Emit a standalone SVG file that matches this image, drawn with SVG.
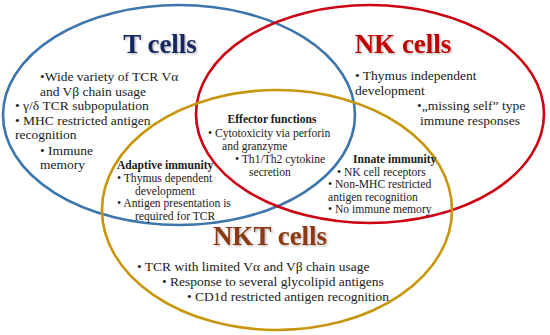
<svg xmlns="http://www.w3.org/2000/svg" width="550" height="335" viewBox="0 0 550 335">
<defs>
<style>
.ring{fill:none;stroke-width:2.6}
text{font-family:'Liberation Serif','DejaVu Serif','Times New Roman',serif}
.title{font-weight:bold;font-size:27px}
.body{font-size:13.5px;fill:#1a1a1a}
.small{font-size:11.6px;fill:#1a1a1a}
.hdr{font-weight:bold}
</style>
<filter id="sh" x="-10%" y="-10%" width="130%" height="140%">
<feDropShadow dx="1.2" dy="1.2" stdDeviation="0.8" flood-color="#000" flood-opacity="0.3"/>
</filter>
</defs>
<rect width="550" height="335" fill="#fff"/>
<g id="connectors"></g>
<g id="t-cells">
<ellipse class="ring" cx="179" cy="115" rx="176" ry="110" stroke="#3d76ac"/>
<text class="title" font-family="Liberation Serif, serif" x="160" y="53" text-anchor="middle" fill="#16285f" filter="url(#sh)">T cells</text>
<text class="body" font-family="Liberation Serif, serif"><tspan x="40" y="81">•Wide variety of TCR Vα</tspan><tspan x="40" y="95.5">and Vβ chain usage</tspan><tspan x="15" y="110">• γ/δ TCR subpopulation</tspan><tspan x="15" y="124.5">• MHC restricted antigen</tspan><tspan x="15" y="139">recognition</tspan><tspan x="40" y="154.5">• Immune</tspan><tspan x="40" y="169">memory</tspan></text>
</g>
<g id="nk-cells">
<ellipse class="ring" cx="370" cy="114" rx="174" ry="109" stroke="#cc0010"/>
<text class="title" font-family="Liberation Serif, serif" x="403" y="53" text-anchor="middle" fill="#c00000" filter="url(#sh)">NK cells</text>
<text class="body" font-family="Liberation Serif, serif"><tspan x="355" y="80">• Thymus independent</tspan><tspan x="355" y="95">development</tspan><tspan x="417" y="110">•„missing self” type</tspan><tspan x="420" y="125">immune responses</tspan></text>
</g>
<g id="nkt-cells">
<ellipse class="ring" cx="277" cy="210" rx="175" ry="120" stroke="#c8960c"/>
<text class="title" font-family="Liberation Serif, serif" x="270" y="245" text-anchor="middle" fill="#8a3a12" filter="url(#sh)">NKT cells</text>
<text class="body" font-family="Liberation Serif, serif"><tspan x="137" y="271">• TCR with limited Vα and Vβ chain usage</tspan><tspan x="162" y="286">• Response to several glycolipid antigens</tspan><tspan x="187" y="301">• CD1d restricted antigen recognition</tspan></text>
</g>
<g id="effector-functions">
<text class="small" font-family="Liberation Serif, serif"><tspan class="hdr" x="272" y="123" text-anchor="middle">Effector functions</tspan><tspan x="208" y="137">• Cytotoxicity via perforin</tspan><tspan x="222" y="150">and granzyme</tspan><tspan x="235" y="163">• Th1/Th2 cytokine</tspan><tspan x="249" y="176">secretion</tspan></text>
</g>
<g id="adaptive-immunity">
<text class="small" font-family="Liberation Serif, serif"><tspan class="hdr" x="117" y="169">Adaptive  immunity</tspan><tspan x="117" y="182">• Thymus dependent</tspan><tspan x="135" y="194.5">development</tspan><tspan x="117" y="207">• Antigen presentation is</tspan><tspan x="135" y="219.5">required for TCR</tspan></text>
</g>
<g id="innate-immunity">
<text class="small" font-family="Liberation Serif, serif"><tspan class="hdr" x="353" y="163">Innate immunity</tspan><tspan x="337" y="175.5">• NK cell receptors</tspan><tspan x="328" y="188">• Non-MHC restricted</tspan><tspan x="328" y="200.5">antigen recognition</tspan><tspan x="328" y="213">• No immune memory</tspan></text>
</g>
</svg>
